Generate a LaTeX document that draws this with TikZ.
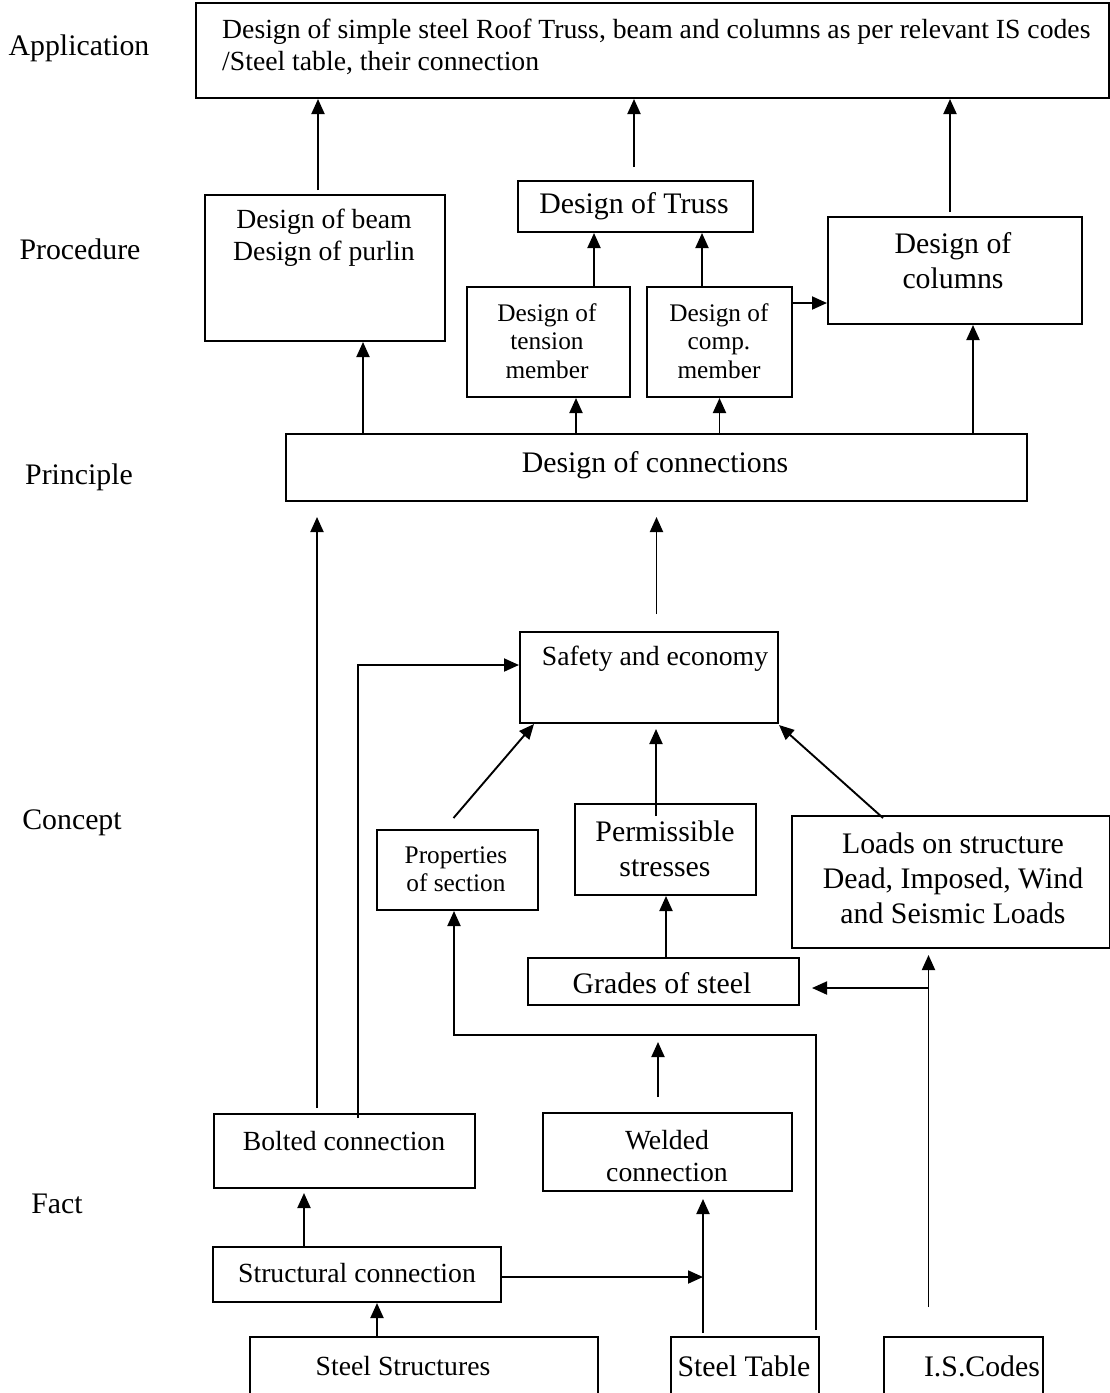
\documentclass[tikz,border=0pt]{standalone}
\usepackage{fontspec}
\setmainfont{Liberation Serif}
\usetikzlibrary{arrows.meta}
\tikzset{
  box/.style={draw, line width=2pt, anchor=north west, inner sep=0pt},
  arr/.style={line width=1.9pt, -{Triangle[length=15pt,width=13pt]}},
  lg/.style={font=\fontsize{29.8}{35}\selectfont, align=center, inner sep=0pt},
  md/.style={font=\fontsize{27.7}{32}\selectfont, align=center, inner sep=0pt},
  sm/.style={font=\fontsize{25.3}{28.5}\selectfont, align=center, inner sep=0pt}
}

\begin{document}
\begin{tikzpicture}[x=1pt,y=-1pt]
  \useasboundingbox (0,0) rectangle (1110,1393);
  \node[lg] (lapp) at (79,48) {Application};
  \node[lg] (lproc) at (80,249) {Procedure};
  \node[lg] (lprin) at (79,477) {Principle};
  \node[lg] (lconc) at (72,823) {Concept};
  \node[lg] (lfact) at (57,1204) {Fact};

  \node[box, minimum width=913, minimum height=95] (app) at (195,2) {};
  \node[md, align=left, anchor=west] (apptxt) at (222,47) {Design of simple steel Roof Truss, beam and columns as per relevant IS codes\\/Steel table, their connection};

  \node[box, minimum width=240, minimum height=146] (beam) at (204,194) {};
  \node[md] (beamtxt) at (324,238) {Design of beam\\Design of purlin};
  \node[box, minimum width=235, minimum height=51] (truss) at (517,180) {};
  \node[lg] (trusstxt) at (634,206) {Design of Truss};
  \node[box, minimum width=254, minimum height=107] (cols) at (827,216) {};
  \node[lg] (colstxt) at (953,261) {Design of\\columns};
  \node[box, minimum width=163, minimum height=110] (tens) at (466,286) {};
  \node[sm] (tenstxt) at (547,341) {Design of\\tension\\member};
  \node[box, minimum width=145, minimum height=110] (comp) at (646,286) {};
  \node[sm] (comptxt) at (719,341) {Design of\\comp.\\member};

  \node[box, minimum width=741, minimum height=67] (conn) at (285,433) {};
  \node[lg] (conntxt) at (655,465) {Design of connections};

  \node[box, minimum width=258, minimum height=91] (safe) at (519,631) {};
  \node[md] (safetxt) at (655,659) {Safety and economy};
  \node[box, minimum width=161, minimum height=80] (prop) at (376,829) {};
  \node[sm] (proptxt) at (456,869) {Properties\\of section};
  \node[box, minimum width=181, minimum height=91] (perm) at (574,803) {};
  \node[lg] (permtxt) at (665,849) {Permissible\\stresses};
  \node[box, minimum width=318, minimum height=132] (load) at (791,815) {};
  \node[lg] (loadtxt) at (953,878) {Loads on structure\\Dead, Imposed, Wind\\and Seismic Loads};
  \node[box, minimum width=271, minimum height=47] (grade) at (527,957) {};
  \node[lg] (gradetxt) at (662,983) {Grades of steel};

  \node[box, minimum width=261, minimum height=74] (bolt) at (213,1113) {};
  \node[md] (bolttxt) at (344,1141) {Bolted connection};
  \node[box, minimum width=249, minimum height=78] (weld) at (542,1112) {};
  \node[md] (weldtxt) at (667,1156) {Welded\\connection};
  \node[box, minimum width=288, minimum height=55] (struc) at (212,1246) {};
  \node[md] (structxt) at (357,1273) {Structural connection};
  \node[box, minimum width=348, minimum height=60] (sstr) at (249,1336) {};
  \node[md] (sstrtxt) at (403,1366) {Steel Structures};
  \node[box, minimum width=148, minimum height=60] (stab) at (670,1336) {};
  \node[lg] (stabtxt) at (744,1366) {Steel Table};
  \node[box, minimum width=159, minimum height=60] (isc) at (883,1336) {};
  \node[lg] (isctxt) at (982,1366) {I.S.Codes};

  \coordinate (beamup) at ([xshift=-7pt,yshift=4pt]beam.north);
  \draw[arr] (beamup) -- (beamup |- app.south);
  \coordinate (trussup) at ([xshift=-1.5pt,yshift=13pt]truss.north);
  \draw[arr] (trussup) -- (trussup |- app.south);
  \coordinate (colsup) at ([xshift=-5pt,yshift=4pt]cols.north);
  \draw[arr] (colsup) -- (colsup |- app.south);

  \coordinate (tensup) at ([xshift=45.5pt]tens.north);
  \draw[arr] (tensup) -- (tensup |- truss.south);
  \coordinate (compup) at ([xshift=-17.5pt]comp.north);
  \draw[arr] (compup) -- (compup |- truss.south);
  \coordinate (compright) at ([yshift=39pt]comp.east);
  \draw[arr] (compright) -- (compright -| cols.west);

  \coordinate (beamdn) at ([xshift=38pt]beam.south);
  \draw[arr] (beamdn |- conn.north) -- (beamdn);
  \coordinate (tensdn) at ([xshift=27.5pt]tens.south);
  \draw[arr] (tensdn |- conn.north) -- (tensdn);
  \draw[arr] (comp.south |- conn.north) -- (comp.south);
  \coordinate (colsdn) at ([xshift=18pt]cols.south);
  \draw[arr] (colsdn |- conn.north) -- (colsdn);

  \coordinate (conndn) at ([yshift=-15pt]conn.south);
  \coordinate (safeup) at ([yshift=17pt]safe.north);
  \draw[arr] (conndn |- safeup) -- (conndn);
  \coordinate (boltup) at ([xshift=-27.5pt,yshift=5pt]bolt.north);
  \draw[arr] (boltup) -- (boltup |- conndn);
  \coordinate (boltup2) at ([xshift=13.5pt,yshift=-5pt]bolt.north);
  \draw[arr] (boltup2) |- ([yshift=12.5pt]safe.west);

  \coordinate (safedn) at ([yshift=-5pt]safe.south);
  \draw[arr] ([xshift=-4pt,yshift=11pt]prop.north) -- ([xshift=15pt]safe.south west);
  \coordinate (permup) at ([xshift=-9.5pt,yshift=-13pt]perm.north);
  \draw[arr] (permup) -- (permup |- safedn);
  \draw[arr] ([xshift=-68pt,yshift=-3pt]load.north) -- ([yshift=-1pt]safe.south east);
  \coordinate (gradeup) at ([xshift=2.5pt,yshift=-1pt]grade.north);
  \draw[arr] (gradeup) -- (gradeup |- perm.south);

  \coordinate (stabup) at ([xshift=71pt,yshift=6pt]stab.north);
  \coordinate (tablerun) at ([xshift=-3.5pt,yshift=-124pt]prop.south);
  \draw[arr] (stabup) |- (tablerun) -- ([xshift=-3.5pt]prop.south);
  \draw[arr] ([xshift=-9.5pt,yshift=15pt]weld.north) -- ([xshift=-9.5pt,yshift=70pt]weld.north);
  \coordinate (stabup2) at ([xshift=-42pt,yshift=3pt]stab.north);
  \coordinate (welddn) at ([yshift=-7pt]weld.south);
  \draw[arr] (stabup2) -- (stabup2 |- welddn);
  \coordinate (strucright) at ([yshift=-2.5pt]struc.east);
  \draw[arr] (strucright) -- (strucright -| stabup2);
  \coordinate (strucup) at ([xshift=-53pt]struc.north);
  \coordinate (boltdn) at ([yshift=-4pt]bolt.south);
  \draw[arr] (strucup) -- (strucup |- boltdn);
  \coordinate (sstrup) at ([xshift=-47pt]sstr.north);
  \draw[arr] (sstrup) -- (sstrup |- struc.south);

  \coordinate (iscup) at ([xshift=-35pt,yshift=29pt]isc.north);
  \coordinate (loaddn) at ([yshift=-6pt]load.south);
  \draw[arr] (iscup) -- (iscup |- loaddn);
  \coordinate (gradeside) at ([xshift=12pt,yshift=-6.5pt]grade.east);
  \draw[arr] (gradeside -| iscup) -- (gradeside);
\end{tikzpicture}
\end{document}
